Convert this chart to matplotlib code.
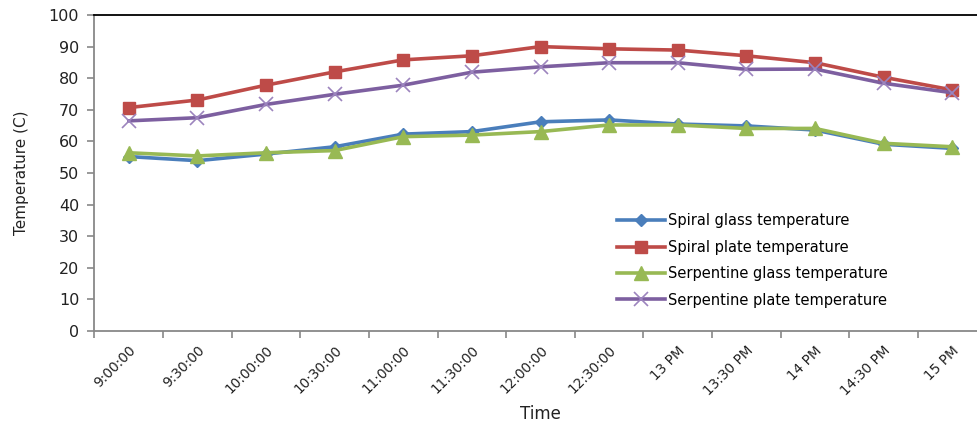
import matplotlib.pyplot as plt
import numpy as np

times = ["9:00:00", "9:30:00", "10:00:00", "10:30:00", "11:00:00", "11:30:00",
         "12:00:00", "12:30:00", "13 PM", "13:30 PM", "14 PM", "14:30 PM", "15 PM"]

spiral_glass = [55.2, 53.9, 56.0, 58.3, 62.3, 63.1, 66.2, 66.8, 65.5, 64.9, 63.6, 59.1, 57.8]
spiral_plate = [70.7, 73.1, 77.8, 82.0, 85.8, 87.1, 90.0, 89.3, 88.9, 87.1, 84.9, 80.3, 76.3]
serp_glass = [56.4, 55.4, 56.4, 57.1, 61.5, 62.0, 63.1, 65.2, 65.2, 64.1, 64.1, 59.4, 58.3]
serp_plate = [66.5, 67.5, 71.7, 74.9, 77.8, 81.9, 83.6, 84.9, 84.9, 82.8, 82.9, 78.4, 75.4]

plt.rcParams["font.family"] = "DejaVu Sans"

fig = plt.figure(figsize=(9.78, 4.29), dpi=100)
# plot area runs slightly past the right edge of the image
ax = fig.add_axes([94.5 / 978, 1 - 331 / 429, (986.5 - 94.5) / 978, (331 - 15) / 429])

x = np.arange(len(times))
ax.plot(x, spiral_glass, color="#4A7EBB", lw=2.6, marker="D", ms=6.5,
        label="Spiral glass temperature")
ax.plot(x, spiral_plate, color="#BE4B48", lw=2.6, marker="s", ms=9,
        label="Spiral plate temperature")
ax.plot(x, serp_glass, color="#98B954", lw=2.6, marker="^", ms=10,
        label="Serpentine glass temperature")
ax.plot(x, serp_plate, color="#7D5FA0", lw=2.6, marker="x", ms=10, mew=1.2,
        mec="#9C84BE", label="Serpentine plate temperature")

ax.set_xlim(-0.5, len(times) - 0.5)
ax.set_ylim(0, 100)
ax.set_yticks(range(0, 101, 10))

ax.set_xticks(x)
ax.set_xticklabels(times, rotation=45, ha="right", rotation_mode="anchor",
                   fontsize=9.8, color="#222222")
ax.tick_params(axis="x", which="major", length=0, pad=9)
ax.set_xticks(np.arange(-0.5, len(times), 1), minor=True)
ax.tick_params(axis="x", which="minor", length=5, color="#888888", width=1.2)
ax.tick_params(axis="y", length=5, color="#888888", width=1.2, labelsize=11.5,
               labelcolor="#222222", pad=6)

for side in ("left", "bottom"):
    ax.spines[side].set_color("#888888")
    ax.spines[side].set_linewidth(1.3)
ax.spines["top"].set_color("black")
ax.spines["top"].set_linewidth(1.3)
ax.spines["right"].set_visible(False)

ax.set_ylabel("Temperature (C)", fontsize=11, color="#222222", labelpad=14)
ax.set_xlabel("Time", fontsize=12, color="#222222", labelpad=5)

ax.legend(loc="upper left", bbox_to_anchor=(0.578, 0.395), frameon=False,
          fontsize=10.5, handlelength=3.3, handletextpad=0.15, labelspacing=0.78,
          borderpad=0)

fig.savefig("out.png", dpi=100)
